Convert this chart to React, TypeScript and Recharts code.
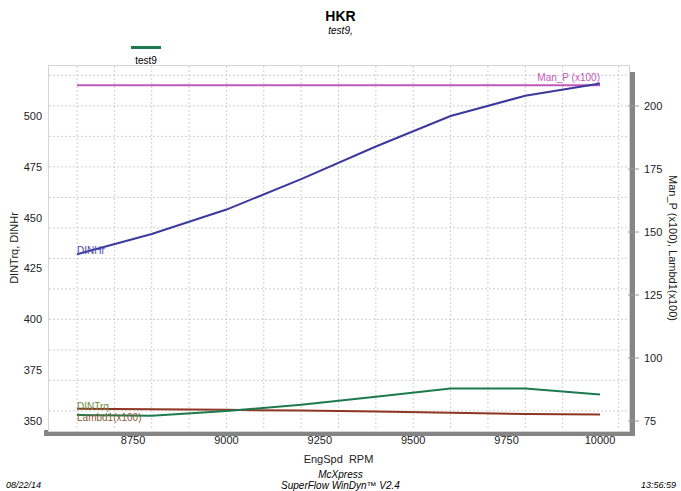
import React from 'react';
import { LineChart, Line, XAxis, YAxis, CartesianGrid } from 'recharts';

// values
const rpm = [8600, 8800, 9000, 9200, 9400, 9600, 9800, 10000];
const dinHr = [432, 442, 454, 469, 485, 500, 510, 516];
const dinTrq = [353, 352.6, 355, 358, 362, 366, 366, 363];
const manP = [208.3, 208.3, 208.3, 208.3, 208.3, 208.3, 208.3, 208.3];
const lambd1 = [79.8, 79.6, 79.4, 79.1, 78.7, 78.2, 77.8, 77.6];

const xTicks = [8750, 9000, 9250, 9500, 9750, 10000];
const leftTicks = [350, 375, 400, 425, 450, 475, 500];
const rightTicks = [75, 100, 125, 150, 175, 200];

const data = rpm.map((r, i) => ({
  rpm: r,
  dinHr: dinHr[i],
  dinTrq: dinTrq[i],
  manP: manP[i],
  lambd1: lambd1[i],
}));

const FONT = '"Liberation Sans", Arial, sans-serif';

// minor grid every 50 rpm / 5 units
const vGrid: number[] = [];
for (let v = 8550; v <= 10050; v += 50) vGrid.push(v);
const hGrid: number[] = [];
for (let v = 350; v <= 520; v += 5) hGrid.push(v);

function lineLabel(text: string, at: number, color: string, dx: number, dy: number, anchor = 'start') {
  return (p: any) => {
    if (p.index !== at) return null;
    return (
      <text x={p.x + dx} y={p.y + dy} fill={color} fontSize={10} fontFamily={FONT} textAnchor={anchor}>
        {text}
      </text>
    );
  };
}

const abs = (s: React.CSSProperties): React.CSSProperties => ({ position: 'absolute', ...s });

export default function App() {
  return (
    <div style={abs({ left: 0, top: 0, width: 681, height: 491, background: '#fff', fontFamily: FONT, overflow: 'hidden' })}>
      {/* plot frame and its shadow */}
      <div style={abs({ left: 44, top: 430, width: 591, height: 6, background: '#858585' })} />
      <div style={abs({ left: 629, top: 72, width: 6, height: 364, background: '#858585' })} />
      <div style={abs({ left: 48, top: 65, width: 580, height: 365, border: '1px solid #d4d4d4', background: '#fff' })} />

      <div style={abs({ left: 0, width: 681, top: 8, textAlign: 'center', fontWeight: 'bold', fontSize: 14 })}>HKR</div>
      <div style={abs({ left: 0, width: 681, top: 25, textAlign: 'center', fontStyle: 'italic', fontSize: 10 })}>test9,</div>
      <div style={abs({ left: 131, top: 46, width: 30, height: 3, background: '#1d7a4e' })} />
      <div style={abs({ left: 126, width: 40, top: 55, textAlign: 'center', fontSize: 10 })}>test9</div>

      <div style={abs({ left: 0, top: 0 })}>
        <LineChart width={681} height={491} data={data} margin={{ top: 66, right: 3, bottom: 25, left: 9 }}>
          <CartesianGrid
            stroke="#cfcfcf"
            strokeDasharray="2 2"
            verticalValues={vGrid}
            horizontalValues={hGrid}
          />
          <XAxis
            dataKey="rpm"
            type="number"
            domain={[8525, 10075]}
            ticks={xTicks}
            allowDataOverflow
            axisLine={false}
            tickLine={false}
            tickSize={4}
            tickMargin={2}
            height={36}
            tick={{ fontSize: 11, fill: '#222', fontFamily: FONT }}
            label={{ value: 'EngSpd\u00a0 RPM', position: 'insideBottom', offset: 3, fontSize: 11, fill: '#222', fontFamily: FONT }}
          />
          <YAxis
            yAxisId={0}
            domain={[345.6, 524.6]}
            ticks={leftTicks}
            allowDataOverflow
            axisLine={false}
            tickLine={false}
            tickSize={4}
            tickMargin={3}
            width={40}
            tick={{ fontSize: 11, fill: '#222', fontFamily: FONT }}
            label={{ value: 'DINTrq, DINHr', angle: -90, position: 'insideLeft', offset: 5, fontSize: 11, fill: '#222', fontFamily: FONT, style: { textAnchor: 'middle' } }}
          />
          <YAxis
            yAxisId="right"
            orientation="right"
            domain={[71.4, 215.9]}
            ticks={rightTicks}
            allowDataOverflow
            axisLine={false}
            tickLine={{ stroke: '#9a9a9a' }}
            tickSize={11}
            tickMargin={5}
            width={50}
            tick={{ fontSize: 11, fill: '#222', fontFamily: FONT }}
            label={{ value: 'Man_P (x100), Lambd1(x100)', angle: 90, position: 'insideRight', offset: 5, fontSize: 11, fill: '#222', fontFamily: FONT, style: { textAnchor: 'middle' } }}
          />
          <Line
            yAxisId="right"
            dataKey="manP"
            type="linear"
            stroke="#c058bc"
            strokeWidth={2}
            dot={false}
            isAnimationActive={false}
            label={lineLabel('Man_P (x100)', rpm.length - 1, '#c058bc', 0, -4, 'end')}
          />
          <Line
            dataKey="dinHr"
            type="linear"
            stroke="#3b3a9c"
            strokeWidth={2}
            dot={false}
            isAnimationActive={false}
            label={lineLabel('DINHr', 0, '#4a4ab4', 0, 0)}
          />
          <Line
            yAxisId="right"
            dataKey="lambd1"
            type="linear"
            stroke="#8e3524"
            strokeWidth={2}
            dot={false}
            isAnimationActive={false}
            label={lineLabel('Lambd1(x100)', 0, '#8a5a34', 0, 12)}
          />
          <Line
            dataKey="dinTrq"
            type="linear"
            stroke="#1d7a4e"
            strokeWidth={2}
            dot={false}
            isAnimationActive={false}
            label={lineLabel('DINTrq', 0, '#6e8c3e', 0, -5)}
          />
        </LineChart>
      </div>

      <div style={abs({ left: 0, width: 681, top: 469, textAlign: 'center', fontStyle: 'italic', fontSize: 10 })}>McXpress</div>
      <div style={abs({ left: 0, width: 681, top: 480, textAlign: 'center', fontStyle: 'italic', fontSize: 10 })}>SuperFlow WinDyn™ V2.4</div>
      <div style={abs({ left: 6, top: 480, fontStyle: 'italic', fontSize: 9 })}>08/22/14</div>
      <div style={abs({ right: 5, top: 480, fontStyle: 'italic', fontSize: 9 })}>13:56:59</div>
    </div>
  );
}
